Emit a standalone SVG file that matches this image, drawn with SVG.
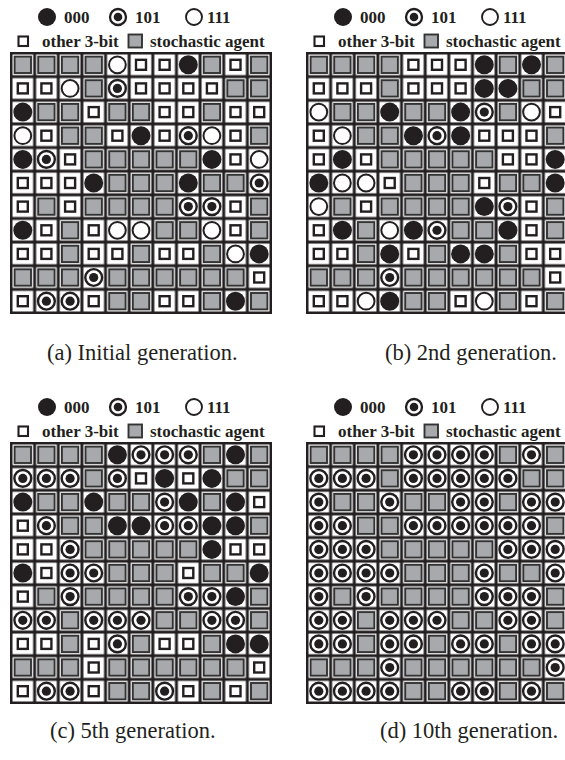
<svg xmlns="http://www.w3.org/2000/svg" xmlns:xlink="http://www.w3.org/1999/xlink" width="565" height="760" viewBox="0 0 565 760">
<style>
.lg{font-family:"Liberation Serif","Times New Roman",serif;font-weight:bold;font-size:17px;fill:#231f20}
.cap{font-family:"Liberation Serif","Times New Roman",serif;font-size:22.5px;fill:#231f20}
</style>
<defs>
<pattern id="cells" width="23.636" height="23.636" patternUnits="userSpaceOnUse"><rect x="1.5" y="1.5" width="20.636" height="20.636" fill="#fff"/></pattern>
<g id="G"><rect x="-8.2" y="-8.2" width="16.4" height="16.4" fill="#a7a9ac" stroke="#333" stroke-width="1.9"/></g>
<g id="s"><rect x="-5" y="-5" width="10" height="10" fill="#fff" stroke="#231f20" stroke-width="2.4"/></g>
<g id="F"><circle r="9.5" fill="#231f20"/></g>
<g id="B"><circle r="8.4" fill="#fff" stroke="#231f20" stroke-width="2.4"/><circle r="4.6" fill="#231f20"/></g>
<g id="O"><circle r="8.4" fill="#fff" stroke="#231f20" stroke-width="2"/></g>
<g id="legend">
<circle cx="47" cy="17" r="9" fill="#231f20"/>
<text class="lg" x="64" y="23">000</text>
<circle cx="118" cy="17" r="8" fill="#fff" stroke="#231f20" stroke-width="2.3"/><circle cx="118" cy="17" r="4.3" fill="#231f20"/>
<text class="lg" x="135" y="23">101</text>
<circle cx="194" cy="17" r="8" fill="#fff" stroke="#231f20" stroke-width="1.9"/>
<text class="lg" x="207" y="23">111</text>
<rect x="18.5" y="36.5" width="9.5" height="9.5" fill="#fff" stroke="#231f20" stroke-width="2.1"/>
<text class="lg" x="42" y="46.5">other 3-bit</text>
<rect x="128.5" y="34.5" width="13.5" height="13" fill="#a7a9ac" stroke="#333" stroke-width="1.9"/>
<text class="lg" x="150" y="46.5">stochastic agent</text>
</g>
<g id="frame"><rect x="-1" y="-1" width="262" height="262" fill="#231f20"/><rect width="260" height="260" fill="url(#cells)"/></g>
</defs>

<g id="legends">
<use href="#legend"/>
<use href="#legend" x="296"/>
<use href="#legend" y="390"/>
<use href="#legend" x="296" y="390"/>
</g>

<g id="grid-a" transform="translate(11,53)">
<use href="#frame"/>
<g transform="translate(0,11.8)"><use href="#G" x="11.8"/><use href="#G" x="35.4"/><use href="#G" x="59.1"/><use href="#G" x="82.7"/><use href="#O" x="106.4"/><use href="#s" x="130"/><use href="#s" x="153.6"/><use href="#F" x="177.3"/><use href="#G" x="200.9"/><use href="#s" x="224.5"/><use href="#G" x="248.2"/></g>
<g transform="translate(0,35.4)"><use href="#s" x="11.8"/><use href="#s" x="35.4"/><use href="#O" x="59.1"/><use href="#G" x="82.7"/><use href="#B" x="106.4"/><use href="#s" x="130"/><use href="#s" x="153.6"/><use href="#s" x="177.3"/><use href="#s" x="200.9"/><use href="#G" x="224.5"/><use href="#G" x="248.2"/></g>
<g transform="translate(0,59.1)"><use href="#F" x="11.8"/><use href="#G" x="35.4"/><use href="#G" x="59.1"/><use href="#s" x="82.7"/><use href="#G" x="106.4"/><use href="#G" x="130"/><use href="#s" x="153.6"/><use href="#s" x="177.3"/><use href="#G" x="200.9"/><use href="#s" x="224.5"/><use href="#s" x="248.2"/></g>
<g transform="translate(0,82.7)"><use href="#O" x="11.8"/><use href="#s" x="35.4"/><use href="#G" x="59.1"/><use href="#G" x="82.7"/><use href="#s" x="106.4"/><use href="#F" x="130"/><use href="#s" x="153.6"/><use href="#B" x="177.3"/><use href="#O" x="200.9"/><use href="#s" x="224.5"/><use href="#G" x="248.2"/></g>
<g transform="translate(0,106.4)"><use href="#F" x="11.8"/><use href="#B" x="35.4"/><use href="#s" x="59.1"/><use href="#G" x="82.7"/><use href="#G" x="106.4"/><use href="#G" x="130"/><use href="#G" x="153.6"/><use href="#G" x="177.3"/><use href="#F" x="200.9"/><use href="#s" x="224.5"/><use href="#O" x="248.2"/></g>
<g transform="translate(0,130)"><use href="#s" x="11.8"/><use href="#s" x="35.4"/><use href="#s" x="59.1"/><use href="#F" x="82.7"/><use href="#G" x="106.4"/><use href="#G" x="130"/><use href="#G" x="153.6"/><use href="#F" x="177.3"/><use href="#G" x="200.9"/><use href="#G" x="224.5"/><use href="#B" x="248.2"/></g>
<g transform="translate(0,153.6)"><use href="#s" x="11.8"/><use href="#G" x="35.4"/><use href="#s" x="59.1"/><use href="#G" x="82.7"/><use href="#G" x="106.4"/><use href="#G" x="130"/><use href="#G" x="153.6"/><use href="#B" x="177.3"/><use href="#B" x="200.9"/><use href="#s" x="224.5"/><use href="#G" x="248.2"/></g>
<g transform="translate(0,177.3)"><use href="#F" x="11.8"/><use href="#s" x="35.4"/><use href="#G" x="59.1"/><use href="#s" x="82.7"/><use href="#O" x="106.4"/><use href="#O" x="130"/><use href="#G" x="153.6"/><use href="#G" x="177.3"/><use href="#O" x="200.9"/><use href="#s" x="224.5"/><use href="#G" x="248.2"/></g>
<g transform="translate(0,200.9)"><use href="#s" x="11.8"/><use href="#s" x="35.4"/><use href="#G" x="59.1"/><use href="#s" x="82.7"/><use href="#s" x="106.4"/><use href="#G" x="130"/><use href="#s" x="153.6"/><use href="#s" x="177.3"/><use href="#G" x="200.9"/><use href="#O" x="224.5"/><use href="#F" x="248.2"/></g>
<g transform="translate(0,224.5)"><use href="#G" x="11.8"/><use href="#G" x="35.4"/><use href="#G" x="59.1"/><use href="#B" x="82.7"/><use href="#G" x="106.4"/><use href="#G" x="130"/><use href="#G" x="153.6"/><use href="#G" x="177.3"/><use href="#G" x="200.9"/><use href="#G" x="224.5"/><use href="#s" x="248.2"/></g>
<g transform="translate(0,248.2)"><use href="#s" x="11.8"/><use href="#B" x="35.4"/><use href="#B" x="59.1"/><use href="#s" x="82.7"/><use href="#G" x="106.4"/><use href="#G" x="130"/><use href="#s" x="153.6"/><use href="#s" x="177.3"/><use href="#G" x="200.9"/><use href="#F" x="224.5"/><use href="#G" x="248.2"/></g>
</g>

<g id="grid-b" transform="translate(307,53)">
<use href="#frame"/>
<g transform="translate(0,11.8)"><use href="#G" x="11.8"/><use href="#G" x="35.4"/><use href="#G" x="59.1"/><use href="#G" x="82.7"/><use href="#s" x="106.4"/><use href="#s" x="130"/><use href="#s" x="153.6"/><use href="#F" x="177.3"/><use href="#G" x="200.9"/><use href="#F" x="224.5"/><use href="#G" x="248.2"/></g>
<g transform="translate(0,35.4)"><use href="#s" x="11.8"/><use href="#s" x="35.4"/><use href="#s" x="59.1"/><use href="#G" x="82.7"/><use href="#s" x="106.4"/><use href="#s" x="130"/><use href="#s" x="153.6"/><use href="#F" x="177.3"/><use href="#F" x="200.9"/><use href="#G" x="224.5"/><use href="#G" x="248.2"/></g>
<g transform="translate(0,59.1)"><use href="#O" x="11.8"/><use href="#G" x="35.4"/><use href="#G" x="59.1"/><use href="#F" x="82.7"/><use href="#G" x="106.4"/><use href="#G" x="130"/><use href="#F" x="153.6"/><use href="#B" x="177.3"/><use href="#G" x="200.9"/><use href="#O" x="224.5"/><use href="#s" x="248.2"/></g>
<g transform="translate(0,82.7)"><use href="#s" x="11.8"/><use href="#O" x="35.4"/><use href="#G" x="59.1"/><use href="#G" x="82.7"/><use href="#F" x="106.4"/><use href="#B" x="130"/><use href="#F" x="153.6"/><use href="#s" x="177.3"/><use href="#s" x="200.9"/><use href="#s" x="224.5"/><use href="#G" x="248.2"/></g>
<g transform="translate(0,106.4)"><use href="#s" x="11.8"/><use href="#F" x="35.4"/><use href="#s" x="59.1"/><use href="#G" x="82.7"/><use href="#G" x="106.4"/><use href="#G" x="130"/><use href="#G" x="153.6"/><use href="#G" x="177.3"/><use href="#s" x="200.9"/><use href="#s" x="224.5"/><use href="#F" x="248.2"/></g>
<g transform="translate(0,130)"><use href="#F" x="11.8"/><use href="#O" x="35.4"/><use href="#O" x="59.1"/><use href="#s" x="82.7"/><use href="#G" x="106.4"/><use href="#G" x="130"/><use href="#G" x="153.6"/><use href="#s" x="177.3"/><use href="#G" x="200.9"/><use href="#G" x="224.5"/><use href="#F" x="248.2"/></g>
<g transform="translate(0,153.6)"><use href="#O" x="11.8"/><use href="#G" x="35.4"/><use href="#s" x="59.1"/><use href="#G" x="82.7"/><use href="#G" x="106.4"/><use href="#G" x="130"/><use href="#G" x="153.6"/><use href="#F" x="177.3"/><use href="#B" x="200.9"/><use href="#s" x="224.5"/><use href="#G" x="248.2"/></g>
<g transform="translate(0,177.3)"><use href="#s" x="11.8"/><use href="#F" x="35.4"/><use href="#G" x="59.1"/><use href="#O" x="82.7"/><use href="#F" x="106.4"/><use href="#B" x="130"/><use href="#G" x="153.6"/><use href="#G" x="177.3"/><use href="#F" x="200.9"/><use href="#s" x="224.5"/><use href="#G" x="248.2"/></g>
<g transform="translate(0,200.9)"><use href="#s" x="11.8"/><use href="#s" x="35.4"/><use href="#G" x="59.1"/><use href="#F" x="82.7"/><use href="#s" x="106.4"/><use href="#G" x="130"/><use href="#F" x="153.6"/><use href="#F" x="177.3"/><use href="#G" x="200.9"/><use href="#s" x="224.5"/><use href="#s" x="248.2"/></g>
<g transform="translate(0,224.5)"><use href="#G" x="11.8"/><use href="#G" x="35.4"/><use href="#G" x="59.1"/><use href="#B" x="82.7"/><use href="#G" x="106.4"/><use href="#G" x="130"/><use href="#G" x="153.6"/><use href="#G" x="177.3"/><use href="#G" x="200.9"/><use href="#G" x="224.5"/><use href="#s" x="248.2"/></g>
<g transform="translate(0,248.2)"><use href="#s" x="11.8"/><use href="#s" x="35.4"/><use href="#O" x="59.1"/><use href="#F" x="82.7"/><use href="#G" x="106.4"/><use href="#G" x="130"/><use href="#s" x="153.6"/><use href="#O" x="177.3"/><use href="#G" x="200.9"/><use href="#s" x="224.5"/><use href="#G" x="248.2"/></g>
</g>

<g id="grid-c" transform="translate(11,443)">
<use href="#frame"/>
<g transform="translate(0,11.8)"><use href="#G" x="11.8"/><use href="#G" x="35.4"/><use href="#G" x="59.1"/><use href="#G" x="82.7"/><use href="#F" x="106.4"/><use href="#B" x="130"/><use href="#B" x="153.6"/><use href="#B" x="177.3"/><use href="#G" x="200.9"/><use href="#F" x="224.5"/><use href="#G" x="248.2"/></g>
<g transform="translate(0,35.4)"><use href="#B" x="11.8"/><use href="#B" x="35.4"/><use href="#B" x="59.1"/><use href="#G" x="82.7"/><use href="#B" x="106.4"/><use href="#s" x="130"/><use href="#F" x="153.6"/><use href="#s" x="177.3"/><use href="#F" x="200.9"/><use href="#G" x="224.5"/><use href="#G" x="248.2"/></g>
<g transform="translate(0,59.1)"><use href="#F" x="11.8"/><use href="#G" x="35.4"/><use href="#G" x="59.1"/><use href="#F" x="82.7"/><use href="#G" x="106.4"/><use href="#G" x="130"/><use href="#B" x="153.6"/><use href="#F" x="177.3"/><use href="#G" x="200.9"/><use href="#F" x="224.5"/><use href="#s" x="248.2"/></g>
<g transform="translate(0,82.7)"><use href="#s" x="11.8"/><use href="#B" x="35.4"/><use href="#G" x="59.1"/><use href="#G" x="82.7"/><use href="#F" x="106.4"/><use href="#F" x="130"/><use href="#B" x="153.6"/><use href="#B" x="177.3"/><use href="#F" x="200.9"/><use href="#F" x="224.5"/><use href="#G" x="248.2"/></g>
<g transform="translate(0,106.4)"><use href="#s" x="11.8"/><use href="#s" x="35.4"/><use href="#B" x="59.1"/><use href="#G" x="82.7"/><use href="#G" x="106.4"/><use href="#G" x="130"/><use href="#G" x="153.6"/><use href="#G" x="177.3"/><use href="#F" x="200.9"/><use href="#s" x="224.5"/><use href="#s" x="248.2"/></g>
<g transform="translate(0,130)"><use href="#F" x="11.8"/><use href="#s" x="35.4"/><use href="#B" x="59.1"/><use href="#B" x="82.7"/><use href="#G" x="106.4"/><use href="#G" x="130"/><use href="#G" x="153.6"/><use href="#s" x="177.3"/><use href="#G" x="200.9"/><use href="#G" x="224.5"/><use href="#F" x="248.2"/></g>
<g transform="translate(0,153.6)"><use href="#s" x="11.8"/><use href="#G" x="35.4"/><use href="#B" x="59.1"/><use href="#G" x="82.7"/><use href="#G" x="106.4"/><use href="#G" x="130"/><use href="#G" x="153.6"/><use href="#B" x="177.3"/><use href="#B" x="200.9"/><use href="#F" x="224.5"/><use href="#G" x="248.2"/></g>
<g transform="translate(0,177.3)"><use href="#B" x="11.8"/><use href="#B" x="35.4"/><use href="#G" x="59.1"/><use href="#B" x="82.7"/><use href="#B" x="106.4"/><use href="#B" x="130"/><use href="#G" x="153.6"/><use href="#G" x="177.3"/><use href="#B" x="200.9"/><use href="#B" x="224.5"/><use href="#G" x="248.2"/></g>
<g transform="translate(0,200.9)"><use href="#s" x="11.8"/><use href="#s" x="35.4"/><use href="#G" x="59.1"/><use href="#s" x="82.7"/><use href="#B" x="106.4"/><use href="#G" x="130"/><use href="#s" x="153.6"/><use href="#s" x="177.3"/><use href="#G" x="200.9"/><use href="#F" x="224.5"/><use href="#F" x="248.2"/></g>
<g transform="translate(0,224.5)"><use href="#G" x="11.8"/><use href="#G" x="35.4"/><use href="#G" x="59.1"/><use href="#s" x="82.7"/><use href="#G" x="106.4"/><use href="#G" x="130"/><use href="#G" x="153.6"/><use href="#G" x="177.3"/><use href="#G" x="200.9"/><use href="#G" x="224.5"/><use href="#s" x="248.2"/></g>
<g transform="translate(0,248.2)"><use href="#s" x="11.8"/><use href="#B" x="35.4"/><use href="#B" x="59.1"/><use href="#s" x="82.7"/><use href="#G" x="106.4"/><use href="#G" x="130"/><use href="#B" x="153.6"/><use href="#s" x="177.3"/><use href="#G" x="200.9"/><use href="#s" x="224.5"/><use href="#G" x="248.2"/></g>
</g>

<g id="grid-d" transform="translate(307,443)">
<use href="#frame"/>
<g transform="translate(0,11.8)"><use href="#G" x="11.8"/><use href="#G" x="35.4"/><use href="#G" x="59.1"/><use href="#G" x="82.7"/><use href="#B" x="106.4"/><use href="#B" x="130"/><use href="#B" x="153.6"/><use href="#B" x="177.3"/><use href="#G" x="200.9"/><use href="#B" x="224.5"/><use href="#G" x="248.2"/></g>
<g transform="translate(0,35.4)"><use href="#B" x="11.8"/><use href="#B" x="35.4"/><use href="#B" x="59.1"/><use href="#G" x="82.7"/><use href="#B" x="106.4"/><use href="#B" x="130"/><use href="#B" x="153.6"/><use href="#B" x="177.3"/><use href="#B" x="200.9"/><use href="#G" x="224.5"/><use href="#G" x="248.2"/></g>
<g transform="translate(0,59.1)"><use href="#B" x="11.8"/><use href="#G" x="35.4"/><use href="#G" x="59.1"/><use href="#B" x="82.7"/><use href="#G" x="106.4"/><use href="#G" x="130"/><use href="#B" x="153.6"/><use href="#B" x="177.3"/><use href="#G" x="200.9"/><use href="#B" x="224.5"/><use href="#B" x="248.2"/></g>
<g transform="translate(0,82.7)"><use href="#B" x="11.8"/><use href="#B" x="35.4"/><use href="#G" x="59.1"/><use href="#G" x="82.7"/><use href="#B" x="106.4"/><use href="#B" x="130"/><use href="#B" x="153.6"/><use href="#B" x="177.3"/><use href="#B" x="200.9"/><use href="#B" x="224.5"/><use href="#G" x="248.2"/></g>
<g transform="translate(0,106.4)"><use href="#B" x="11.8"/><use href="#B" x="35.4"/><use href="#B" x="59.1"/><use href="#G" x="82.7"/><use href="#G" x="106.4"/><use href="#G" x="130"/><use href="#G" x="153.6"/><use href="#G" x="177.3"/><use href="#B" x="200.9"/><use href="#B" x="224.5"/><use href="#B" x="248.2"/></g>
<g transform="translate(0,130)"><use href="#B" x="11.8"/><use href="#B" x="35.4"/><use href="#B" x="59.1"/><use href="#B" x="82.7"/><use href="#G" x="106.4"/><use href="#G" x="130"/><use href="#G" x="153.6"/><use href="#B" x="177.3"/><use href="#G" x="200.9"/><use href="#G" x="224.5"/><use href="#B" x="248.2"/></g>
<g transform="translate(0,153.6)"><use href="#B" x="11.8"/><use href="#G" x="35.4"/><use href="#B" x="59.1"/><use href="#G" x="82.7"/><use href="#G" x="106.4"/><use href="#G" x="130"/><use href="#G" x="153.6"/><use href="#B" x="177.3"/><use href="#B" x="200.9"/><use href="#B" x="224.5"/><use href="#G" x="248.2"/></g>
<g transform="translate(0,177.3)"><use href="#B" x="11.8"/><use href="#B" x="35.4"/><use href="#G" x="59.1"/><use href="#B" x="82.7"/><use href="#B" x="106.4"/><use href="#B" x="130"/><use href="#G" x="153.6"/><use href="#G" x="177.3"/><use href="#B" x="200.9"/><use href="#B" x="224.5"/><use href="#G" x="248.2"/></g>
<g transform="translate(0,200.9)"><use href="#B" x="11.8"/><use href="#B" x="35.4"/><use href="#G" x="59.1"/><use href="#B" x="82.7"/><use href="#B" x="106.4"/><use href="#G" x="130"/><use href="#B" x="153.6"/><use href="#B" x="177.3"/><use href="#G" x="200.9"/><use href="#B" x="224.5"/><use href="#B" x="248.2"/></g>
<g transform="translate(0,224.5)"><use href="#G" x="11.8"/><use href="#G" x="35.4"/><use href="#G" x="59.1"/><use href="#B" x="82.7"/><use href="#G" x="106.4"/><use href="#G" x="130"/><use href="#G" x="153.6"/><use href="#G" x="177.3"/><use href="#G" x="200.9"/><use href="#G" x="224.5"/><use href="#B" x="248.2"/></g>
<g transform="translate(0,248.2)"><use href="#B" x="11.8"/><use href="#B" x="35.4"/><use href="#B" x="59.1"/><use href="#B" x="82.7"/><use href="#G" x="106.4"/><use href="#G" x="130"/><use href="#B" x="153.6"/><use href="#B" x="177.3"/><use href="#G" x="200.9"/><use href="#B" x="224.5"/><use href="#G" x="248.2"/></g>
</g>

<g id="captions">
<text class="cap" x="47" y="360">(a) Initial generation.</text>
<text class="cap" x="385" y="360">(b) 2nd generation.</text>
<text class="cap" x="50" y="738">(c) 5th generation.</text>
<text class="cap" x="380" y="738">(d) 10th generation.</text>
</g>
</svg>
